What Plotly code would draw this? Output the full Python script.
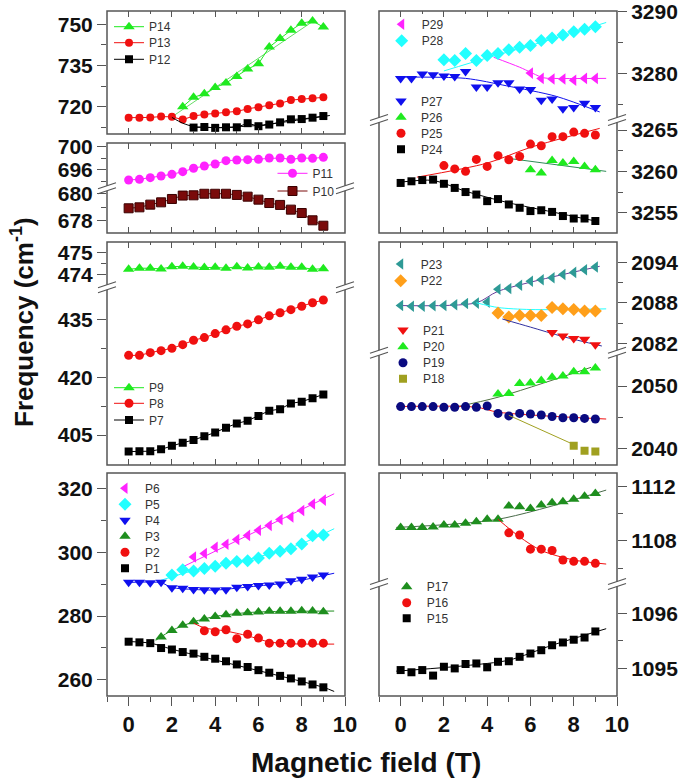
import plotly.graph_objects as go

W, H = 685, 778

FIELD = [0, 0.5, 1, 1.5, 2, 2.5, 3, 3.5, 4, 4.5, 5, 5.5, 6, 6.5, 7, 7.5, 8, 8.5, 9]
X_TICKS = [0, 2, 4, 6, 8, 10]
X_MINOR = [-1, 1, 3, 5, 7, 9]

# ---- data: (first field value, frequencies) ----
p1 = (0, [271.95, 271.75, 271.5, 269.96, 269.5, 268.7, 268.2, 267.2, 266.6, 265.8, 264.8, 264.0, 263.0, 262.2, 261.2, 260.4, 259.45, 258.5, 257.6])
p2 = (3.5, [275.4, 275.1, 275.7, 272.9, 274.3, 273.1, 271.5, 271.5, 271.5, 271.5, 271.5, 271.5])
p3 = (1.5, [273.4, 275.5, 277.1, 278.2, 279.1, 279.9, 280.4, 280.9, 281.1, 281.3, 281.5, 281.5, 281.5, 281.7, 281.6, 281.4])
p4 = (0, [290.65, 290.65, 290.5, 290.65, 288.9, 288.8, 288.4, 288.3, 288.2, 288.3, 289.1, 289.3, 289.6, 289.8, 290.1, 291.1, 291.6, 292.3, 292.9])
p5 = (2, [292.9, 294.6, 294.2, 295.0, 295.7, 296.6, 297.2, 297.4, 298.3, 299.8, 300.4, 301.2, 302.7, 305.3, 305.5])
p6 = (3, [298.6, 299.7, 301.7, 302.6, 304.1, 305.4, 307.0, 308.5, 310.4, 311.2, 313.2, 315.3, 316.5])
p7 = (0, [400.7, 400.8, 400.8, 401.3, 402.2, 403.0, 403.7, 404.7, 405.65, 406.9, 408.0, 408.7, 409.9, 411.3, 411.7, 413.2, 413.65, 414.5, 415.5])
p8 = (0, [425.65, 425.65, 426.35, 426.87, 427.48, 428.43, 429.57, 430.26, 431.3, 432.26, 433.2, 433.8, 434.87, 435.9, 436.7, 437.5, 438.4, 439.3, 440.0])
p9 = (0, [474.23, 474.28, 474.28, 474.25, 474.35, 474.37, 474.34, 474.31, 474.32, 474.28, 474.35, 474.29, 474.34, 474.32, 474.37, 474.32, 474.32, 474.23, 474.26])
p10 = (0, [678.94, 679.01, 679.21, 679.38, 679.63, 679.88, 679.9, 680.02, 680.02, 680.02, 679.93, 679.8, 679.58, 679.33, 679.19, 678.84, 678.59, 678.05, 677.65])
p11 = (0, [694.29, 694.4, 694.69, 694.97, 695.26, 695.71, 696.29, 696.69, 697.03, 697.6, 697.71, 697.77, 697.83, 698.06, 698.06, 697.83, 698.06, 698.0, 698.17])
p12 = (3, [712.4, 712.6, 712.3, 712.5, 712.5, 714.0, 712.9, 713.5, 714.3, 715.4, 715.5, 716.0, 716.6])
p13 = (0, [716.0, 716.0, 716.1, 716.4, 716.3, 715.3, 716.6, 717.2, 717.5, 718.0, 718.3, 719.2, 719.8, 720.5, 721.2, 722.4, 722.8, 723.1, 723.4])
p14 = (2.5, [720.0, 723.4, 724.7, 727.0, 728.6, 731.0, 733.7, 735.6, 741.7, 744.8, 747.8, 750.4, 751.2, 749.0])
p15 = (0, [1094.97, 1094.93, 1094.97, 1094.87, 1095.03, 1095.0, 1095.08, 1095.09, 1095.02, 1095.12, 1095.13, 1095.21, 1095.27, 1095.33, 1095.42, 1095.47, 1095.52, 1095.56, 1095.67])
p16 = (5, [1108.6, 1108.44, 1107.4, 1107.4, 1107.3, 1106.6, 1106.5, 1106.5, 1106.35])
p17 = (0, [1109.0, 1109.0, 1109.0, 1109.03, 1109.18, 1109.18, 1109.3, 1109.42, 1109.6, 1109.6, 1110.58, 1110.53, 1110.4, 1110.65, 1110.82, 1110.9, 1111.07, 1111.3, 1111.5])
p18 = (8, [2040.4, 2039.6, 2039.5])
p19 = (0, [2046.7, 2046.7, 2046.7, 2046.7, 2046.6, 2046.6, 2046.7, 2046.6, 2046.8, 2045.6, 2045.2, 2045.6, 2045.5, 2045.35, 2045.1, 2044.9, 2044.9, 2044.8, 2044.7])
p20 = (4.5, [2048.7, 2048.8, 2050.4, 2050.5, 2050.9, 2051.4, 2051.6, 2052.3, 2052.3, 2052.9])
p21 = (7, [2083.6, 2083.1, 2082.7, 2082.6, 2081.8])
p22 = (4.5, [2086.5, 2085.9, 2086.1, 2086.1, 2086.1, 2087.3, 2087.1, 2087.0, 2086.8, 2086.8])
p23 = (0, [2087.6, 2087.5, 2087.5, 2087.55, 2087.6, 2087.7, 2087.9, 2087.95, 2088.1, 2090.0, 2090.1, 2090.6, 2091.2, 2091.4, 2091.7, 2092.2, 2092.5, 2092.9, 2093.3])
p24 = (0, [3258.6, 3258.8, 3258.95, 3259.0, 3258.5, 3258.0, 3257.5, 3257.2, 3256.4, 3256.65, 3256.0, 3255.6, 3255.2, 3255.3, 3255.1, 3254.6, 3254.3, 3254.3, 3254.0])
p25 = (2, [3260.7, 3260.3, 3260.0, 3261.45, 3260.6, 3261.9, 3261.4, 3261.8, 3263.3, 3263.1, 3264.2, 3264.2, 3264.75, 3264.6, 3264.4])
p26 = (6, [3260.2, 3259.8, 3261.3, 3261.0, 3261.2, 3260.6, 3260.2])
p27 = (0, [3279.2, 3279.2, 3279.9, 3279.8, 3279.6, 3279.5, 3280.3, 3277.8, 3277.8, 3278.5, 3278.5, 3277.5, 3277.4, 3275.7, 3275.9, 3274.3, 3274.5, 3275.2, 3274.5])
p28 = (2, [3282.2, 3282.1, 3283.2, 3282.1, 3282.9, 3283.2, 3283.8, 3284.2, 3284.5, 3285.3, 3285.7, 3286.2, 3286.7, 3287.1, 3287.5])
p29 = (6, [3280.05, 3279.2, 3279.1, 3279.1, 3278.9, 3279.2, 3279.2])

# ---- fitted guide curves (field, frequency) ----
fit_p1 = ([0, 1, 2, 9, 9.5], [272.0, 271.5, 269.6, 257.6, 256.3])
fit_p2 = ([3, 3.5, 4.5, 5.5, 6.5, 7.5, 9.5], [277.8, 276.3, 275.3, 273.8, 271.9, 271.3, 271.2])
fit_p3 = ([1.25, 2, 3, 4, 5, 6, 9.5], [272.4, 275.5, 278.2, 279.9, 280.8, 281.3, 281.6])
fit_p4 = ([0, 1.5, 2, 3, 4, 5, 6, 7, 8, 9.5], [290.6, 290.5, 289.0, 288.4, 288.2, 288.8, 289.5, 290.2, 291.3, 293.5])
fit_p5 = ([1.5, 3, 5, 7, 8, 9.5], [291.3, 294.3, 297.0, 300.5, 302.8, 307.5])
fit_p6 = ([2.5, 9.5], [295.5, 318.5])
fit_p12 = ([2, 2.5, 3, 4, 5, 6, 7, 8, 9.3], [716.1, 714.0, 712.8, 712.4, 712.7, 713.2, 714.2, 715.3, 716.8])
fit_p14 = ([2, 8.5], [716.3, 751.0])
fit_p15 = ([-0.2, 3, 5, 7, 9.5], [1094.95, 1095.05, 1095.15, 1095.42, 1095.72])
fit_p16 = ([4.5, 5.5, 6.5, 8, 9.5], [1109.6, 1108.3, 1107.3, 1106.6, 1106.3])
fit_p17 = ([-0.2, 4.5, 9.5], [1109.0, 1109.6, 1111.75])
fit_p18 = ([5, 8], [2045.3, 2040.6])
fit_p19 = ([-0.2, 3.5, 4.5, 9.5], [2046.7, 2046.6, 2045.8, 2044.7])
fit_p20 = ([2.5, 4.5, 8.8], [2046.6, 2048.2, 2053.0])
fit_p21 = ([4.7, 6, 7.5, 9.3], [2085.6, 2084.4, 2083.0, 2081.6])
fit_p22 = ([3.5, 4.5, 6, 9.5], [2088.0, 2087.3, 2087.0, 2087.1])
fit_p23 = ([-0.2, 3.5, 4.5, 9.2], [2087.6, 2088.0, 2089.7, 2093.4])
fit_p24 = ([0, 1.5, 3, 5, 7, 9], [3258.7, 3258.9, 3257.6, 3256.2, 3255.1, 3254.0])
fit_p25 = ([0.75, 4, 6, 9.2], [3259.3, 3261.0, 3262.9, 3265.2])
fit_p26 = ([4.9, 9.5], [3261.6, 3260.0])
fit_p27 = ([-0.2, 3, 4.9, 7.2, 9.2], [3279.4, 3279.2, 3278.0, 3276.3, 3273.8])
fit_p28 = ([2, 4, 6, 9.5], [3280.4, 3282.5, 3284.5, 3288.2])
fit_p29 = ([4.3, 5.5, 6.6, 7, 9.5], [3282.6, 3281.0, 3279.3, 3279.2, 3279.2])

# ---- colours ----
GREEN = "#1FEA1F"; DKGREEN = "#1E8E1E"; RED = "#F01010"; BLACK = "#000000"
MAGENTA = "#FF22FF"; CYAN = "#22FFFF"; BLUE = "#1010EE"; DKRED = "#7A0A0A"
TEAL = "#2E9A96"; ORANGE = "#FF9F1A"; NAVY = "#0A0A80"; OLIVE = "#A0A020"

FONT = "Liberation Sans, Arial, sans-serif"

fig = go.Figure()

# ---- panel geometry (pixels) ----
LEFT = (107, 345)
RIGHT = (379, 617)
BOT = 696


def xd(col):
    return [col[0] / W, col[1] / W]


def yd(top, bot):
    return [1 - bot / H, 1 - top / H]


layout = {}
# id: (column, top, bottom, yrange, yticks, yminor, xside, xlabels, xmirror)
PANELS = {
    1: (LEFT, 11, 134, [710.06, 754.84], [720, 735, 750], [712.5, 727.5, 742.5], "bottom", False, True),
    2: (LEFT, 143, 188.3, [692.86, 700.63], [696, 700], [694, 698], "top", False, False),
    3: (LEFT, 188.3, 233, [677.11, 680.42], [678, 680], [679], "bottom", False, False),
    4: (LEFT, 242, 287.3, [473.40, 475.49], [474, 475], [474.5], "top", False, False),
    5: (LEFT, 287.3, 465, [397.22, 443.30], [405, 420, 435], [412.5, 427.5], "bottom", False, False),
    6: (LEFT, 473, BOT, [254.87, 325.03], [260, 280, 300, 320], [270, 290, 310], "bottom", True, False),
    7: (RIGHT, 11, 120, [3272.5, 3290.05], [3280, 3290], [3275, 3285], "top", False, False),
    8: (RIGHT, 120, 233, [3252.55, 3266.21], [3255, 3260, 3265], [3257.5, 3262.5], "bottom", False, False),
    9: (RIGHT, 242, 352.7, [2080.61, 2097.0], [2082, 2088, 2094], [2085, 2091], "top", False, False),
    10: (RIGHT, 352.7, 465, [2037.32, 2055.35], [2040, 2050], [2045], "bottom", False, False),
    11: (RIGHT, 473, 584, [1104.83, 1113.01], [1108, 1112], [1106, 1110], "top", False, False),
    12: (RIGHT, 584, BOT, [1094.50, 1096.53], [1095, 1096], [1095.5], "bottom", True, False),
}

AXCOL = "#555555"
TICKFONT_Y = dict(family=FONT, size=21, color="#111111", weight="bold")
TICKFONT_X = dict(family=FONT, size=22, color="#111111", weight="bold")

for i, (col, top, bot, yr, ytv, ymin, xside, xlab, xmir) in PANELS.items():
    sx = "" if i == 1 else str(i)
    xa = dict(domain=xd(col), range=[-1, 10], anchor="y" + sx, side=xside,
              showgrid=False, zeroline=False, showline=False,
              tickmode="array", tickvals=X_TICKS, ticklen=9 if xlab else 6, tickwidth=1, tickcolor=AXCOL,
              minor=dict(tickvals=X_MINOR, ticklen=5 if xlab else 3, tickwidth=1, tickcolor=AXCOL,
                         ticks="outside" if xlab else "inside"),
              ticks="outside" if xlab else "inside",
              showticklabels=xlab, tickfont=TICKFONT_X, ticklabeloverflow="allow")
    if xmir:
        xa["mirror"] = "ticks"
    side = "left" if col == LEFT else "right"
    ya = dict(domain=yd(top, bot), range=yr, anchor="x" + sx, side=side,
              showgrid=False, zeroline=False, showline=False,
              tickmode="array", tickvals=ytv, ticks="outside", ticklen=9, tickwidth=1,
              tickcolor=AXCOL, tickfont=TICKFONT_Y, ticklabeloverflow="allow",
              minor=dict(tickvals=ymin, ticks="outside", ticklen=5, tickwidth=1, tickcolor=AXCOL))
    layout["xaxis" + sx] = xa
    layout["yaxis" + sx] = ya
    # inside tick marks on the opposite vertical edge
    layout["yaxis%d" % (i + 20)] = dict(domain=yd(top, bot), range=yr, anchor="x" + sx,
                                        overlaying="y" + sx, side="right" if side == "left" else "left",
                                        showgrid=False, zeroline=False, showline=False,
                                        tickmode="array", tickvals=ytv, ticks="inside", ticklen=6,
                                        tickcolor=AXCOL, showticklabels=False,
                                        minor=dict(tickvals=ymin, ticks="inside", ticklen=3,
                                                   tickcolor=AXCOL))

# inside ticks along the top edge of the lower-left panel
layout["xaxis13"] = dict(domain=xd(LEFT), range=[-1, 10], anchor="y6", overlaying="x6", side="top",
                         showgrid=False, zeroline=False, showline=False,
                         tickmode="array", tickvals=X_TICKS, ticks="inside", ticklen=6,
                         tickcolor=AXCOL, showticklabels=False,
                         minor=dict(tickvals=X_MINOR, ticks="inside", ticklen=3, tickcolor=AXCOL))

legend_defs = {}
legend_count = [0]


def series(name, data, panel, color, symbol, leg_xy, size=9, lines=False, fit=None,
           fitcolor=None, outline=None):
    start, vals = data
    i0 = FIELD.index(start)
    xs = FIELD[i0:i0 + len(vals)]
    sx = "" if panel == 1 else str(panel)
    if fit is not None:
        fig.add_trace(go.Scatter(x=fit[0], y=fit[1], mode="lines", xaxis="x" + sx, yaxis="y" + sx,
                                 line=dict(color=fitcolor or color, width=1, shape="spline", smoothing=0.8),
                                 showlegend=False, hoverinfo="skip"))
    legend_count[0] += 1
    ln = "legend" if legend_count[0] == 1 else "legend%d" % legend_count[0]
    legend_defs[ln] = dict(x=(leg_xy[0] - 20) / W, y=1 - leg_xy[1] / H, xanchor="left", yanchor="middle",
                           bgcolor="rgba(0,0,0,0)", borderwidth=0,
                           font=dict(family=FONT, size=12, color="#333333"),
                           itemwidth=30, tracegroupgap=0)
    mk = dict(color=color, symbol=symbol, size=size,
              line=dict(width=1 if outline else 0, color=outline or color))
    fig.add_trace(go.Scatter(x=xs, y=vals, name=name, mode="lines+markers" if lines else "markers",
                             xaxis="x" + sx, yaxis="y" + sx, marker=mk,
                             line=dict(color=color, width=1), legend=ln))


# left column
series("P14", p14, 1, GREEN, "triangle-up", (129, 26.7), 10, True, fit_p14, "#66DD66")
series("P13", p13, 1, RED, "circle", (129, 42.7), 8, True)
series("P12", p12, 1, BLACK, "square", (129, 59.3), 8, True, fit_p12, BLACK)
series("P11", p11, 2, MAGENTA, "circle", (292.5, 173.3), 9, True)
series("P10", p10, 3, DKRED, "square", (292.5, 191), 9, True, outline="#3A0000")
series("P9", p9, 4, GREEN, "triangle-up", (129, 387.7), 10, True)
series("P8", p8, 5, RED, "circle", (129, 403.3), 9, True)
series("P7", p7, 5, BLACK, "square", (129, 420), 8, True)
series("P6", p6, 6, MAGENTA, "triangle-left", (125, 488.3), 10, False, fit_p6)
series("P5", p5, 6, CYAN, "diamond", (125, 504.2), 10, False, fit_p5)
series("P4", p4, 6, BLUE, "triangle-down", (125, 520.2), 10, False, fit_p4)
series("P3", p3, 6, DKGREEN, "triangle-up", (125, 536.2), 10, False, fit_p3)
series("P2", p2, 6, RED, "circle", (125, 552.2), 9, False, fit_p2)
series("P1", p1, 6, BLACK, "square", (125, 568.2), 8, False, fit_p1)
# right column
series("P29", p29, 7, MAGENTA, "triangle-left", (401.7, 24.3), 10, False, fit_p29)
series("P28", p28, 7, CYAN, "diamond", (401.7, 40.7), 10, False, fit_p28)
series("P27", p27, 7, BLUE, "triangle-down", (401, 101), 10, False, fit_p27)
series("P26", p26, 8, GREEN, "triangle-up", (401, 117.3), 10, False, fit_p26, "#2E8B57")
series("P25", p25, 8, RED, "circle", (401, 133.3), 9, False, fit_p25)
series("P24", p24, 8, BLACK, "square", (401, 149.3), 8, False, fit_p24)
series("P23", p23, 9, TEAL, "triangle-left", (400.7, 264), 10, False, fit_p23, "#6A3D9A")
series("P22", p22, 9, ORANGE, "diamond", (400.7, 280.7), 10, False, fit_p22, CYAN)
series("P21", p21, 9, RED, "triangle-down", (403, 330), 10, False, fit_p21, "#3030A0")
series("P20", p20, 10, GREEN, "triangle-up", (403, 346.7), 10, False, fit_p20, "#4F6F3F")
series("P19", p19, 10, NAVY, "circle", (403, 362.7), 9, False, fit_p19, RED)
series("P18", p18, 10, OLIVE, "square", (403, 378.7), 8, False, fit_p18, OLIVE)
series("P17", p17, 11, DKGREEN, "triangle-up", (406.7, 586.7), 10, False, fit_p17, "#4A6A4A")
series("P16", p16, 11, RED, "circle", (406.7, 602.7), 9, False, fit_p16)
series("P15", p15, 12, BLACK, "square", (406.7, 618.3), 8, False, fit_p15)

# ---- frames and axis-break marks ----
shapes = []
FRAMES = [(LEFT, 11, 134), (LEFT, 143, 233), (LEFT, 242, 465), (LEFT, 473, BOT),
          (RIGHT, 11, 233), (RIGHT, 242, 465), (RIGHT, 473, BOT)]
for col, top, bot in FRAMES:
    shapes.append(dict(type="rect", xref="paper", yref="paper", x0=col[0] / W, x1=col[1] / W,
                       y0=1 - bot / H, y1=1 - top / H, line=dict(color=AXCOL, width=1.5),
                       fillcolor="rgba(0,0,0,0)", layer="above"))

BREAKS = [(LEFT, 188.3), (LEFT, 287.3), (RIGHT, 120), (RIGHT, 352.7), (RIGHT, 584)]
for col, yb in BREAKS:
    for xe in col:
        shapes.append(dict(type="rect", xref="paper", yref="paper", x0=(xe - 3) / W, x1=(xe + 3) / W,
                           y0=1 - (yb + 2.5) / H, y1=1 - (yb - 2.5) / H,
                           line=dict(width=0), fillcolor="white", layer="above"))
        for off in (-2.5, 2.5):
            shapes.append(dict(type="line", xref="paper", yref="paper",
                               x0=(xe - 9) / W, y0=1 - (yb + off + 3) / H,
                               x1=(xe + 9) / W, y1=1 - (yb + off - 3) / H,
                               line=dict(color=AXCOL, width=1.2), layer="above"))

annotations = [
    dict(text="Frequency (cm<sup>-1</sup>)", xref="paper", yref="paper", x=22 / W, y=1 - 322 / H,
         textangle=-90, showarrow=False, xanchor="center", yanchor="middle",
         font=dict(family=FONT, size=26, color="#111111", weight="bold")),
    dict(text="Magnetic field (T)", xref="paper", yref="paper", x=366 / W, y=1 - 762 / H,
         showarrow=False, xanchor="center", yanchor="middle",
         font=dict(family=FONT, size=28, color="#111111", weight="bold")),
]

fig.update_layout(width=W, height=H, autosize=False,
                  margin=dict(l=0, r=0, t=0, b=0, autoexpand=False),
                  paper_bgcolor="white", plot_bgcolor="white",
                  shapes=shapes, annotations=annotations, **layout, **legend_defs)

fig.write_html("out.html", config={"displayModeBar": False},
               post_script="document.body.style.margin='0';document.body.style.padding='0';")
